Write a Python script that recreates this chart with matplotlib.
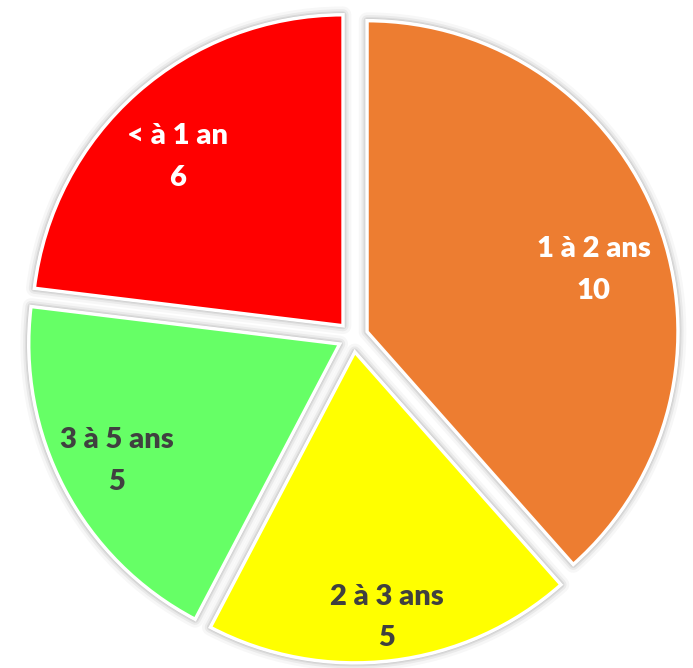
import numpy as np
import matplotlib
matplotlib.use("Agg")
import matplotlib.pyplot as plt
from matplotlib.patches import Wedge

categories = ["1 à 2 ans", "2 à 3 ans", "3 à 5 ans", "< à 1 an"]
values = [10, 5, 5, 6]
colors = ["#ED7D31", "#FFFF00", "#66FF66", "#FF0000"]
text_colors = ["white", "#404040", "#404040", "white"]
label_dist = [0.755, 0.86, 0.81, 0.76]
label_dang = [-5.5, 0, 0, 3]

W, H = 693, 668
fig = plt.figure(figsize=(W / 100, H / 100), dpi=100)
ax = fig.add_axes([0, 0, 1, 1])

cx, cy = 353, H - 337
R = 311
explode = [15] * len(values)  # matplotlib offsets in data units

wedges, _ = ax.pie(values, colors=colors, startangle=90, counterclock=False,
                   center=(cx, cy), radius=R, explode=explode,
                   wedgeprops=dict(edgecolor="white", linewidth=2.5, zorder=3),
                   frame=True)
ax.set_xlim(0, W)
ax.set_ylim(0, H)
ax.set_aspect("equal")
ax.axis("off")

# soft shadow
for w in wedges:
    for lw, a in [(12, 0.03), (8, 0.05), (5, 0.07), (3, 0.09)]:
        s = Wedge(w.center, w.r, w.theta1, w.theta2, facecolor="none",
                  edgecolor="black", linewidth=lw, alpha=a, zorder=2,
                  joinstyle="round")
        ax.add_patch(s)

for w, cat, v, tc, d, da in zip(wedges, categories, values, text_colors,
                                label_dist, label_dang):
    mid = np.deg2rad((w.theta1 + w.theta2) / 2 + da)
    x = w.center[0] + d * w.r * np.cos(mid)
    y = w.center[1] + d * w.r * np.sin(mid)
    ax.text(x, y, f"{cat}\n{v}", ha="center", va="center", color=tc,
            fontsize=21, fontweight="heavy", family="Lato", linespacing=1.75,
            zorder=5)

fig.savefig("out.png", dpi=100)
